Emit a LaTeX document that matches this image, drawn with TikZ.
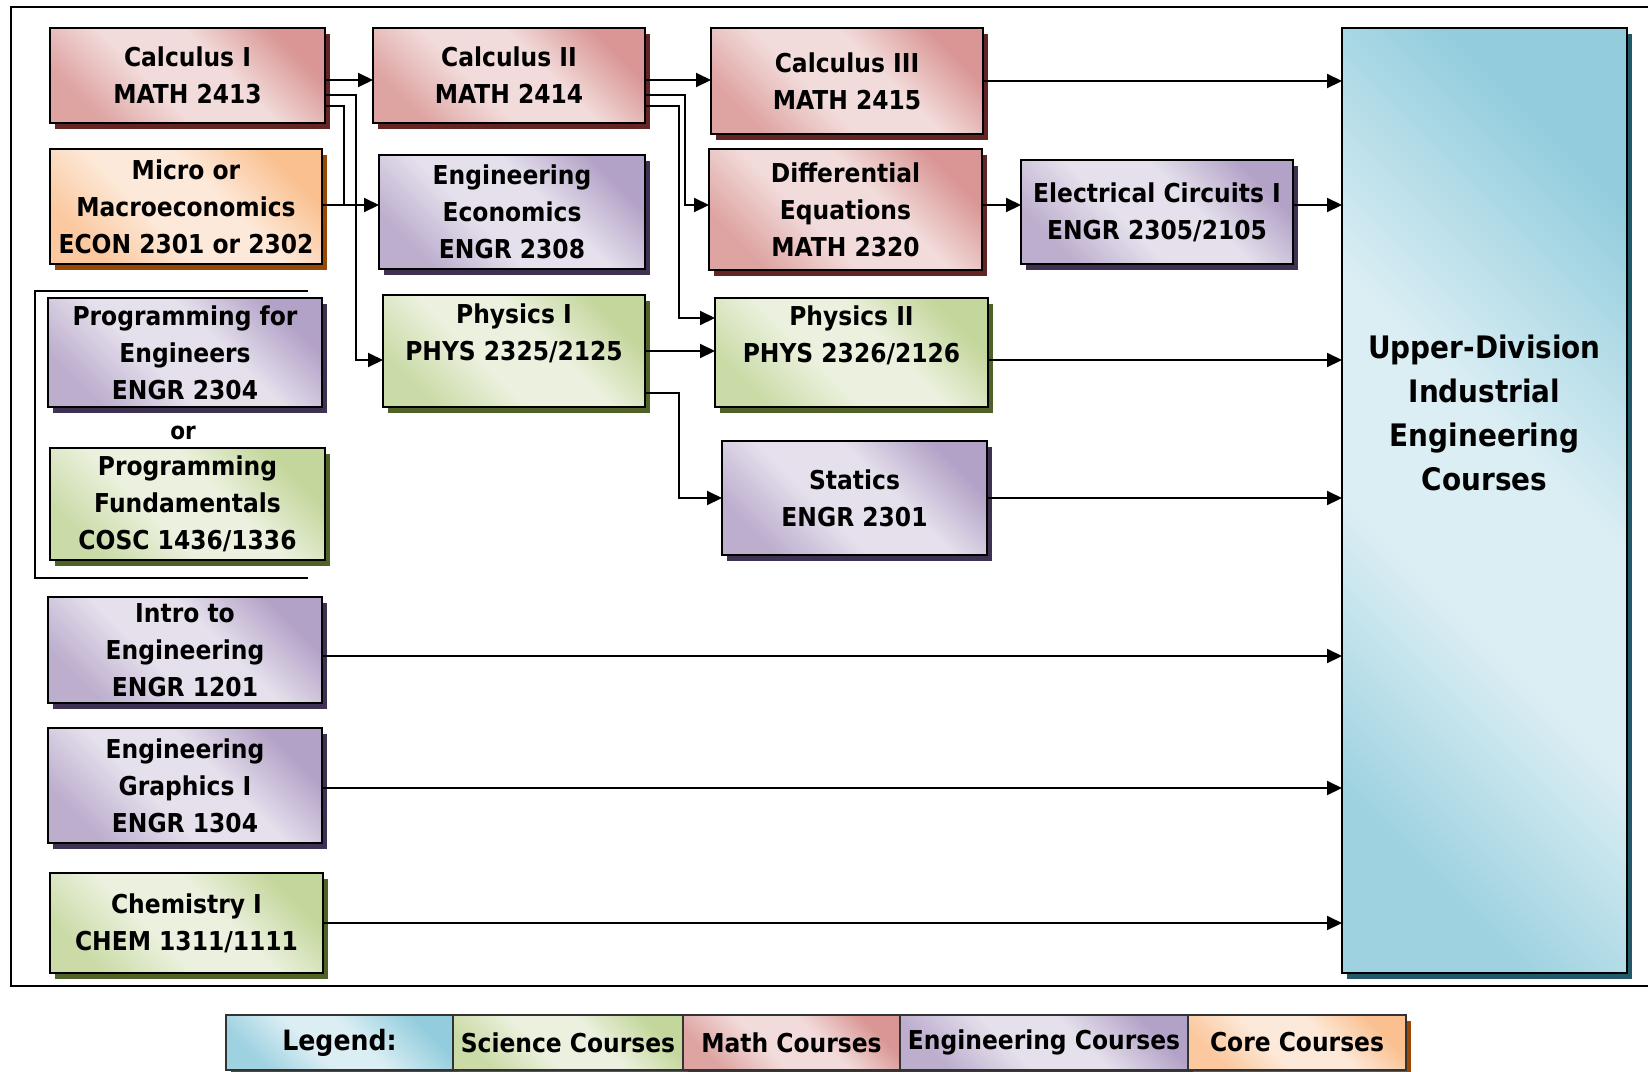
\documentclass[tikz,border=0pt]{standalone}
\usepackage{fontspec}
\setmainfont{DejaVu Sans}[FakeStretch=0.9]
\usetikzlibrary{arrows.meta,shadows}
\definecolor{mathL}{HTML}{F2DCDB}\definecolor{mathD}{HTML}{D99694}\definecolor{mathS}{HTML}{632523}
\definecolor{engL}{HTML}{E5E0EC}\definecolor{engD}{HTML}{B3A2C7}\definecolor{engS}{HTML}{3F3151}
\definecolor{sciL}{HTML}{EBF1DE}\definecolor{sciD}{HTML}{C3D69B}\definecolor{sciS}{HTML}{4F6228}
\definecolor{coreL}{HTML}{FDE9D9}\definecolor{coreD}{HTML}{FAC090}\definecolor{coreS}{HTML}{984807}
\definecolor{upL}{HTML}{DBEEF4}\definecolor{upD}{HTML}{93CDDD}\definecolor{upS}{HTML}{215968}
\pgfdeclareverticalshading{mathshade}{100bp}{color(0bp)=(mathD); color(25bp)=(mathD); color(42bp)=(mathL); color(58bp)=(mathL); color(75bp)=(mathD!80!mathL); color(100bp)=(mathD!80!mathL)}
\pgfdeclareverticalshading{engshade}{100bp}{color(0bp)=(engD); color(25bp)=(engD); color(42bp)=(engL); color(58bp)=(engL); color(75bp)=(engD!80!engL); color(100bp)=(engD!80!engL)}
\pgfdeclareverticalshading{scishade}{100bp}{color(0bp)=(sciD); color(25bp)=(sciD); color(42bp)=(sciL); color(58bp)=(sciL); color(75bp)=(sciD!80!sciL); color(100bp)=(sciD!80!sciL)}
\pgfdeclareverticalshading{coreshade}{100bp}{color(0bp)=(coreD); color(25bp)=(coreD); color(42bp)=(coreL); color(58bp)=(coreL); color(75bp)=(coreD!80!coreL); color(100bp)=(coreD!80!coreL)}
\pgfdeclareverticalshading{upshade}{100bp}{color(0bp)=(upD); color(25bp)=(upD); color(45bp)=(upL); color(58bp)=(upL); color(75bp)=(upD!85!upL); color(100bp)=(upD!85!upL)}
\begin{document}
\begin{tikzpicture}[x=1pt,y=-1pt,
  course/.style={draw=black, line width=2.4pt, inner sep=0pt, outer sep=0pt, align=center,
    font=\fontsize{26}{37}\selectfont\bfseries},
  grad/.style 2 args={shade, shading=#1, shading angle=135,
    drop shadow={shadow xshift=5pt, shadow yshift=-6pt, opacity=1, fill=#2}},
  mathbox/.style={course, grad={mathshade}{mathS}},
  engbox/.style={course, grad={engshade}{engS}},
  scibox/.style={course, grad={scishade}{sciS}},
  corebox/.style={course, grad={coreshade}{coreS}},
  upbox/.style={course, grad={upshade}{upS}},
  legcell/.style={course, line width=1.6pt, draw=black!80, minimum height=55pt},
  conn/.style={line width=2pt, -{Triangle[length=15pt,width=14pt]}},
  plain/.style={line width=2pt},
]
\useasboundingbox (0,0) rectangle (1648,1071);
\fill[white] (0,0) rectangle (1648,1071);

% outer frame (open on the right)
\draw[line width=2pt] (1648,7) -- (11,7) -- (11,986) -- (1648,986);
% bracket around the programming alternatives
\draw[line width=1.8pt] (308,291) -- (35,291) -- (35,578) -- (308,578);

% course boxes
\node[mathbox, minimum width=275pt, minimum height=95pt] (calcI) at (187.5,75.5) {Calculus I\\MATH 2413};
\node[mathbox, minimum width=272pt, minimum height=95pt] (calcII) at (509,75.5) {Calculus II\\MATH 2414};
\node[mathbox, minimum width=272pt, minimum height=106pt] (calcIII) at (847,81) {Calculus III\\MATH 2415};
\node[corebox, minimum width=272pt, minimum height=115pt] (micro) at (186,206.5) {Micro or\\Macroeconomics\\ECON 2301 or 2302};
\node[engbox, minimum width=266pt, minimum height=114pt] (econ) at (512,212) {Engineering\\Economics\\ENGR 2308};
\node[mathbox, minimum width=273pt, minimum height=121pt] (diffeq) at (845.5,209.5) {Differential\\Equations\\MATH 2320};
\node[engbox, minimum width=272pt, minimum height=104pt] (elec) at (1157,212) {Electrical Circuits I\\ENGR 2305/2105};
\node[scibox, minimum width=262pt, minimum height=112pt] (phys1) at (514,351) {Physics I\\PHYS 2325/2125\\\mbox{}};
\node[scibox, minimum width=273pt, minimum height=109pt] (phys2) at (851.5,352.5) {Physics II\\PHYS 2326/2126\\\mbox{}};
\node[engbox, minimum width=274pt, minimum height=109pt] (progeng) at (185,352.5) {Programming for\\Engineers\\ENGR 2304};
\node[course, draw=none, font=\fontsize{24}{30}\selectfont\bfseries] (ortext) at (183,433) {or};
\node[scibox, minimum width=275pt, minimum height=112pt] (progfund) at (187.5,504) {Programming\\Fundamentals\\COSC 1436/1336};
\node[engbox, minimum width=265pt, minimum height=114pt] (statics) at (854.5,498) {Statics\\ENGR 2301};
\node[engbox, minimum width=274pt, minimum height=106pt] (intro) at (185,650) {Intro to\\Engineering\\ENGR 1201};
\node[engbox, minimum width=274pt, minimum height=115pt] (graphics) at (185,785.5) {Engineering\\Graphics I\\ENGR 1304};
\node[scibox, minimum width=273pt, minimum height=100pt] (chem) at (186.5,923) {Chemistry I\\CHEM 1311/1111};
\node[upbox, minimum width=285pt, minimum height=945pt] (upper) at (1484.5,500.5) {};
\node[course, draw=none, font=\fontsize{31}{44}\selectfont\bfseries] (uppertxt) at (1484.5,413)
  {Upper-Division\\Industrial\\Engineering\\Courses};

% connectors
\draw[conn] (calcI.east |- 0,80) -- (calcII.west |- 0,80);
\draw[conn] (calcI.east |- 0,95) -- (356,95) -- (356,360) -- (phys1.west |- 0,360);
\draw[plain] (calcI.east |- 0,106) -- (344,106) -- (344,205);
\draw[conn] (micro.east |- 0,205) -- (econ.west |- 0,205);
\draw[conn] (calcII.east |- 0,80) -- (calcIII.west |- 0,80);
\draw[conn] (calcII.east |- 0,95) -- (685,95) -- (685,205) -- (diffeq.west |- 0,205);
\draw[conn] (calcII.east |- 0,106) -- (679,106) -- (679,318) -- (phys2.west |- 0,318);
\draw[conn] (phys1.east |- 0,351) -- (phys2.west |- 0,351);
\draw[conn] (phys1.east |- 0,393) -- (679,393) -- (679,498) -- (statics.west |- 0,498);
\draw[conn] (diffeq.east |- 0,205) -- (elec.west |- 0,205);
\draw[conn] (calcIII.east |- 0,81) -- (upper.west |- 0,81);
\draw[conn] (elec.east |- 0,205) -- (upper.west |- 0,205);
\draw[conn] (phys2.east |- 0,360) -- (upper.west |- 0,360);
\draw[conn] (statics.east |- 0,498) -- (upper.west |- 0,498);
\draw[conn] (intro.east |- 0,656) -- (upper.west |- 0,656);
\draw[conn] (graphics.east |- 0,788) -- (upper.west |- 0,788);
\draw[conn] (chem.east |- 0,923) -- (upper.west |- 0,923);

% legend
\node[legcell, grad={upshade}{upS}, minimum width=227pt, font=\fontsize{28}{34}\selectfont\bfseries] (legA) at (339.5,1042.5) {Legend:};
\node[legcell, grad={scishade}{sciS}, minimum width=230pt] (legB) at (568,1042.5) {Science Courses};
\node[legcell, grad={mathshade}{mathS}, minimum width=217pt] (legC) at (791.5,1042.5) {Math Courses};
\node[legcell, grad={engshade}{engS}, minimum width=288pt] (legD) at (1044,1042.5) {Engineering Courses};
\node[legcell, grad={coreshade}{coreS}, minimum width=218pt] (legE) at (1297,1042.5) {Core Courses};
\end{tikzpicture}
\end{document}
